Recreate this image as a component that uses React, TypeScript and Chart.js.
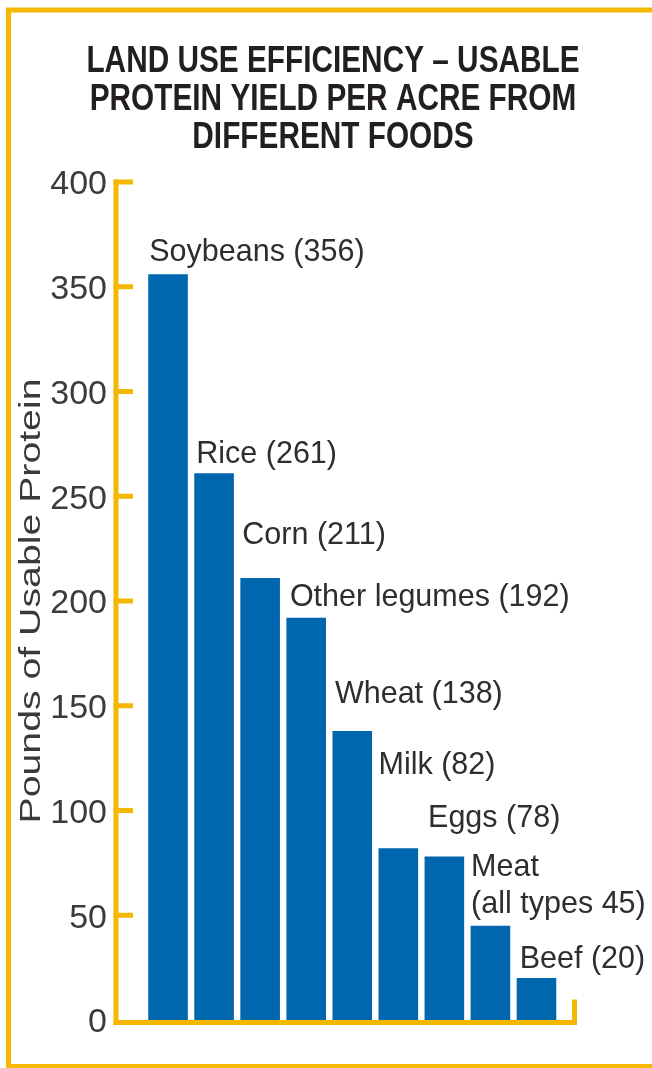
import React, { useEffect, useRef } from "react";
import { Chart, registerables } from "chart.js";

Chart.register(...registerables);

// ---- data ----
const categories = ["Soybeans", "Rice", "Corn", "Other legumes", "Wheat", "Milk", "Eggs", "Meat", "Beef"];
const proteinValues = [356, 261, 211, 192, 138, 82, 78, 45, 20];
const barLabelLines = [
  ["Soybeans (356)"],
  ["Rice (261)"],
  ["Corn (211)"],
  ["Other legumes (192)"],
  ["Wheat (138)"],
  ["Milk (82)"],
  ["Eggs (78)"],
  ["Meat", "(all types 45)"],
  ["Beef (20)"],
];
const titleLines = ["LAND USE EFFICIENCY – USABLE", "PROTEIN YIELD PER ACRE FROM", "DIFFERENT FOODS"];
const yAxisTitle = "Pounds of Usable Protein";
const yTickValues = [0, 50, 100, 150, 200, 250, 300, 350, 400];

// ---- styles / label placement (pixels) ----
const YELLOW = "#F5B700";
const BLUE = "#0067AF";
const SANS = "'Liberation Sans', Arial, sans-serif";
const LABEL_LIFT = [13, 10.5, 33.5, 12, 28, 74, 30, 13, 10.5];
const LABEL_SHIFT = [1, 2, 2, 3.5, 2.5, 0, 3.5, 0.5, 3];

const decorPlugin = {
  id: "decor",
  beforeDraw(chart: any) {
    const ctx = chart.ctx;
    ctx.save();
    ctx.strokeStyle = YELLOW;
    ctx.lineCap = "butt";
    // outer frame (open on the right)
    ctx.lineWidth = 5;
    ctx.beginPath();
    ctx.moveTo(652, 10);
    ctx.lineTo(8.5, 10);
    ctx.lineTo(8.5, 1066);
    ctx.stroke();
    ctx.lineWidth = 4;
    ctx.beginPath();
    ctx.moveTo(6, 1066);
    ctx.lineTo(652, 1066);
    ctx.stroke();
    ctx.restore();
  },
  afterDraw(chart: any) {
    const ctx = chart.ctx;
    const area = chart.chartArea;
    const yScale = chart.scales.y;
    const w = chart.width;
    ctx.save();

    // ---- axes ----
    const axisX = area.left - 29;
    const zeroY = yScale.getPixelForValue(0);
    const topY = yScale.getPixelForValue(yTickValues[yTickValues.length - 1]);
    const axisY = zeroY + 2.5;
    const rightX = area.right + 17.5;
    ctx.strokeStyle = YELLOW;
    ctx.lineWidth = 5;
    ctx.lineCap = "butt";
    ctx.beginPath();
    ctx.moveTo(axisX, topY - 2.5);
    ctx.lineTo(axisX, axisY + 2.5);
    ctx.stroke();
    ctx.beginPath();
    ctx.moveTo(axisX - 2.5, axisY);
    ctx.lineTo(rightX, axisY);
    ctx.stroke();
    ctx.beginPath();
    ctx.moveTo(rightX - 2.5, axisY + 2.5);
    ctx.lineTo(rightX - 2.5, axisY - 23);
    ctx.stroke();
    yTickValues.forEach((v) => {
      if (v === 0) return;
      const py = yScale.getPixelForValue(v);
      ctx.beginPath();
      ctx.moveTo(axisX - 2.5, py);
      ctx.lineTo(axisX + 17, py);
      ctx.stroke();
    });

    // ---- title (condensed bold) ----
    ctx.fillStyle = "#231F20";
    ctx.font = `bold 37px ${SANS}`;
    ctx.textAlign = "center";
    ctx.textBaseline = "alphabetic";
    titleLines.forEach((line, i) => {
      ctx.save();
      ctx.translate((w + 14) / 2, 72 + i * 38);
      ctx.scale(0.805, 1);
      ctx.fillText(line, 0, 0);
      ctx.restore();
    });

    // ---- y axis title (stretched along its length) ----
    ctx.save();
    ctx.fillStyle = "#3A3A3A";
    ctx.font = `29px ${SANS}`;
    ctx.textAlign = "center";
    ctx.textBaseline = "alphabetic";
    ctx.translate(40, (area.top + area.bottom) / 2);
    ctx.rotate(-Math.PI / 2);
    ctx.scale(1.353, 1);
    ctx.fillText(yAxisTitle, 0, 0);
    ctx.restore();

    // ---- bar labels ----
    const meta = chart.getDatasetMeta(0);
    ctx.fillStyle = "#2E2E2E";
    ctx.font = `30.5px ${SANS}`;
    ctx.textAlign = "left";
    ctx.textBaseline = "alphabetic";
    meta.data.forEach((bar: any, i: number) => {
      const lines = barLabelLines[i];
      const x = bar.x - bar.width / 2 + LABEL_SHIFT[i];
      lines.forEach((line, j) => {
        const y = bar.y - LABEL_LIFT[i] - (lines.length - 1 - j) * 37;
        ctx.fillText(line, x, y);
      });
    });

    ctx.restore();
  },
};

export default function App() {
  const canvasRef = useRef<HTMLCanvasElement | null>(null);

  useEffect(() => {
    if (!canvasRef.current) return;
    const chart = new Chart(canvasRef.current, {
      type: "bar",
      data: {
        labels: categories,
        datasets: [
          {
            data: proteinValues,
            backgroundColor: BLUE,
            borderWidth: 0,
            categoryPercentage: 1,
            barPercentage: 0.86,
          },
        ],
      },
      options: {
        animation: false,
        responsive: false,
        maintainAspectRatio: false,
        devicePixelRatio: 1,
        layout: { padding: { top: 182, bottom: 48, left: 0, right: 92.5 } },
        plugins: {
          legend: { display: false },
          tooltip: { enabled: false },
          title: { display: false },
        },
        scales: {
          x: { display: false, offset: true },
          y: {
            min: 0,
            max: 400,
            afterFit(scale: any) {
              scale.width = 145;
              scale.paddingTop = 0;
              scale.paddingBottom = 0;
            },
            afterBuildTicks(scale: any) {
              scale.ticks = yTickValues.map((v) => ({ value: v }));
            },
            ticks: {
              stepSize: 50,
              padding: 38,
              labelOffset: 3,
              color: "#3B3B3B",
              font: { family: SANS, size: 34 },
            },
            grid: { display: false, drawTicks: false },
            border: { display: false },
          },
        },
      },
      plugins: [decorPlugin],
    } as any);
    return () => chart.destroy();
  }, []);

  return (
    <div style={{ position: "absolute", left: 0, top: 0, width: 652, height: 1068, background: "#fff" }}>
      <canvas ref={canvasRef} width={652} height={1068} style={{ width: 652, height: 1068, display: "block" }} />
    </div>
  );
}
